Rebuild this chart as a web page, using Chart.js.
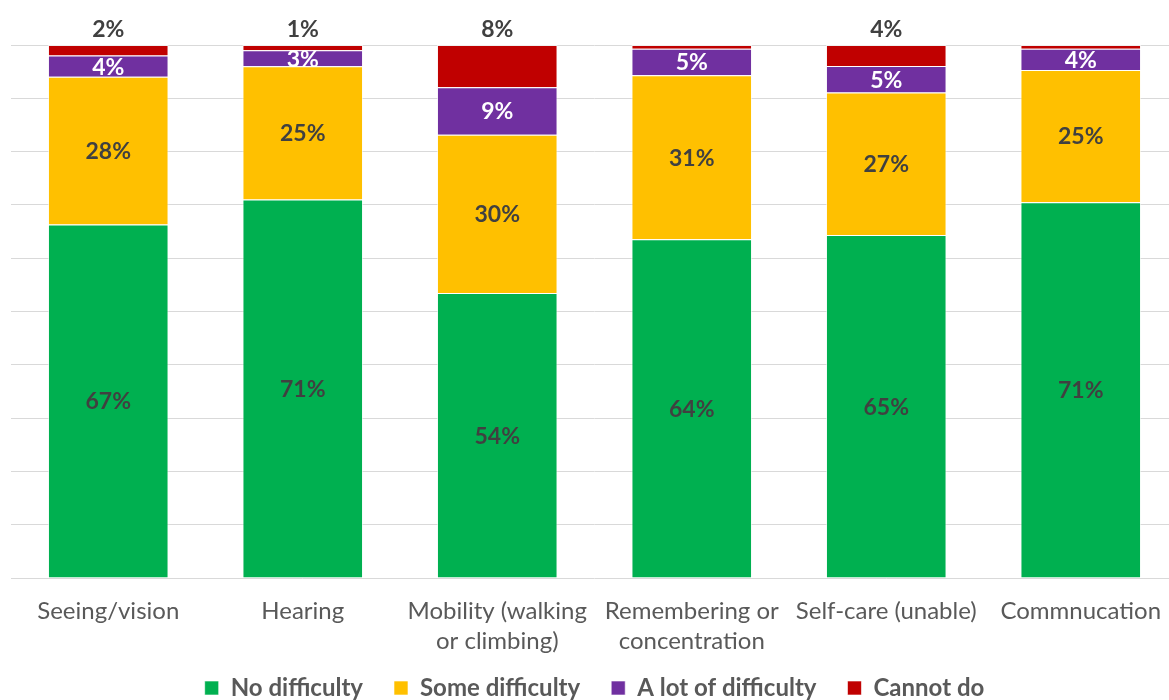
<!DOCTYPE html>
<html lang="en">
  <head>
    <meta charset="UTF-8" />
    <title>Difficulty by domain</title>
    <script src="https://cdn.jsdelivr.net/npm/chart.js"></script>
    <style>
      html, body { margin: 0; padding: 0; background: #fff; overflow: hidden; }
      #wrap { width: 1169px; height: 700px; overflow: hidden; }
    </style>
  </head>
  <body>
    <div id="wrap"><canvas id="myChart" width="1190" height="710"></canvas></div>

    <script>
      // categories and series (percent of respondents)
      const categories = [
        "Seeing/vision",
        "Hearing",
        ["Mobility (walking", "or climbing)"],
        ["Remembering or", "concentration"],
        "Self-care (unable)",
        "Commnucation"
      ];
      const noDifficulty = [67, 71, 54, 64, 65, 71];
      const someDifficulty = [28, 25, 30, 31, 27, 25];
      const lotDifficulty = [4, 3, 9, 5, 5, 4];
      const cannotDo = [2, 1, 8, 0.7, 4, 0.7];

      const series = [
        { label: "No difficulty", values: noDifficulty, color: "#00B050", text: "#404040" },
        { label: "Some difficulty", values: someDifficulty, color: "#FFC000", text: "#404040" },
        { label: "A lot of difficulty", values: lotDifficulty, color: "#7030A0", text: "#ffffff" },
        { label: "Cannot do", values: cannotDo, color: "#C00000", text: "#404040", above: true }
      ];

      // 100% stacked: each bar is scaled to its own total
      const totals = categories.map((c, i) =>
        series.reduce((s, d) => s + d.values[i], 0)
      );

      const FONT = "Lato, 'Open Sans', sans-serif";

      const segmentLabels = {
        id: "segmentLabels",
        afterDatasetsDraw(chart) {
          const ctx = chart.ctx;
          ctx.save();
          ctx.font = "bold 23px " + FONT;
          ctx.textAlign = "center";
          ctx.textBaseline = "middle";
          chart.data.datasets.forEach((ds, di) => {
            const s = series[di];
            const meta = chart.getDatasetMeta(di);
            meta.data.forEach((bar, i) => {
              const v = s.values[i];
              if (v < 1) return;
              const txt = Math.round(v) + "%";
              ctx.fillStyle = s.text;
              if (s.above) {
                // red segment is labelled just above the bar
                ctx.fillText(txt, bar.x, bar.y - 15);
              } else {
                ctx.fillText(txt, bar.x, (bar.y + bar.base) / 2 + 1);
              }
            });
          });
          ctx.restore();
        }
      };

      const data = {
        labels: categories,
        datasets: series.map((s) => ({
          label: s.label,
          data: s.values.map((v, i) => (v / totals[i]) * 100),
          backgroundColor: s.color,
          borderColor: "rgba(255,255,255,0.6)",
          borderWidth: 1,
          categoryPercentage: 1,
          barPercentage: 0.62
        }))
      };

      const config = {
        type: "bar",
        data: data,
        options: {
          responsive: false,
          animation: false,
          layout: { padding: { top: 45, left: 11, right: 12, bottom: 0 } },
          plugins: {
            tooltip: { enabled: false },
            legend: {
              position: "bottom",
              labels: {
                boxWidth: 14,
                boxHeight: 14,
                padding: 13,
                color: "#595959",
                font: { family: FONT, size: 24, weight: "bold" },
                // wider gap between legend entries than the vertical padding allows
                generateLabels(chart) {
                  const items = Chart.defaults.plugins.legend.labels.generateLabels(chart);
                  items.forEach((it, i) => {
                    if (i < items.length - 1) it.text += "\u2003";
                  });
                  return items;
                }
              }
            }
          },
          scales: {
            x: {
              stacked: true,
              grid: { display: false },
              border: { display: false },
              afterFit(scale) {
                scale.height = 85;
              },
              ticks: {
                color: "#595959",
                font: { family: FONT, size: 24, lineHeight: 1.25 },
                maxRotation: 0,
                autoSkip: false,
                padding: 10
              }
            },
            y: {
              stacked: true,
              min: 0,
              max: 100,
              grid: { color: "#d9d9d9", drawTicks: false },
              border: { display: false },
              ticks: { display: false, stepSize: 10 }
            }
          }
        },
        plugins: [segmentLabels]
      };

      const myChart = new Chart(document.getElementById("myChart"), config);
    </script>
  </body>
</html>
